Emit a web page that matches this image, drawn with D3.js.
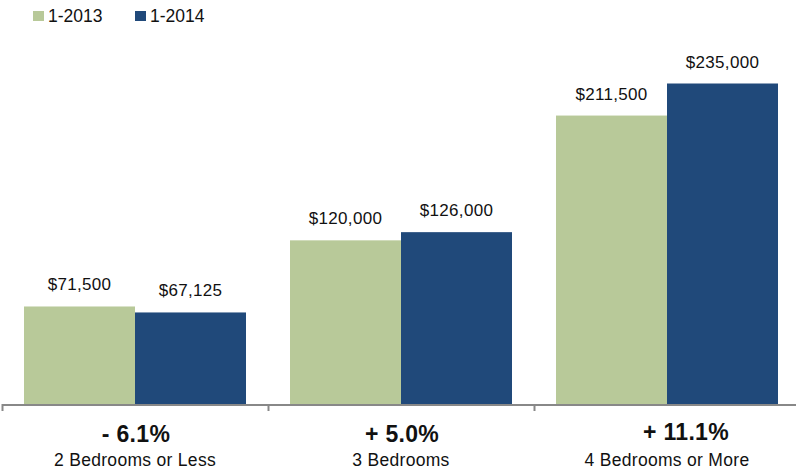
<!DOCTYPE html>
<html>
<head>
<meta charset="utf-8">
<script src="https://cdn.jsdelivr.net/npm/d3@7"></script>
<style>
  body { margin: 0; background: #fff; }
  text { font-family: "Liberation Sans", Arial, Helvetica, sans-serif; fill: #111; }
</style>
</head>
<body>
<svg width="796" height="473"></svg>
<script>
const categories = ["2 Bedrooms or Less", "3 Bedrooms", "4 Bedrooms or More"];
const series = ["1-2013", "1-2014"];
const values2013 = [71500, 120000, 211500];
const values2014 = [67125, 126000, 235000];
const changes = ["- 6.1%", "+ 5.0%", "+ 11.1%"];
const colors = ["#b8c999", "#20497a"];

const svg = d3.select("svg");
const baseY = 404;

const x = d3.scaleBand().domain(categories).range([2, 800]);
const xs = d3.scaleBand().domain(series).range([22, 244]);
const y = d3.scaleLinear().domain([0, 235000]).range([baseY, 83.5]);

const rows = categories.map((c, i) => ({
  cat: c,
  vals: [values2013[i], values2014[i]]
}));

const groups = svg.selectAll("g.cat")
  .data(rows)
  .join("g")
  .attr("class", "cat")
  .attr("transform", d => `translate(${x(d.cat)},0)`);

groups.selectAll("rect")
  .data(d => d.vals.map((v, j) => ({ s: series[j], v })))
  .join("rect")
  .attr("x", d => xs(d.s))
  .attr("width", xs.bandwidth())
  .attr("y", d => y(d.v))
  .attr("height", d => baseY - y(d.v))
  .attr("fill", (d, j) => colors[j]);

groups.selectAll("text.val")
  .data(d => d.vals.map((v, j) => ({ s: series[j], v })))
  .join("text")
  .attr("class", "val")
  .attr("x", d => xs(d.s) + xs.bandwidth() / 2)
  .attr("y", d => y(d.v) - 16)
  .attr("text-anchor", "middle")
  .style("font-size", "17px")
  .style("letter-spacing", "0.3px")
  .text(d => "$" + d3.format(",")(d.v));

// axis line + boundary ticks
svg.append("line")
  .attr("x1", 2).attr("x2", 800)
  .attr("y1", baseY + 1).attr("y2", baseY + 1)
  .attr("stroke", "#888").attr("stroke-width", 2);

svg.selectAll("line.tick")
  .data(categories)
  .join("line")
  .attr("class", "tick")
  .attr("x1", d => x(d) + 0.5).attr("x2", d => x(d) + 0.5)
  .attr("y1", baseY).attr("y2", baseY + 7)
  .attr("stroke", "#888").attr("stroke-width", 2);

svg.selectAll("text.chg")
  .data(changes)
  .join("text")
  .attr("class", "chg")
  .attr("x", (d, i) => x(categories[i]) + x.bandwidth() / 2)
  .attr("dx", (d, i) => i === 2 ? 19 : 1)
  .attr("y", (d, i) => i === 2 ? 439.5 : 441.5)
  .attr("text-anchor", "middle")
  .style("font-size", "23px")
  .style("font-weight", "bold")
  .style("letter-spacing", "0.3px")
  .text(d => d);

svg.selectAll("text.cat")
  .data(categories)
  .join("text")
  .attr("class", "cat")
  .attr("x", d => x(d) + x.bandwidth() / 2)
  .attr("y", 466)
  .attr("text-anchor", "middle")
  .style("font-size", "17.5px")
  .style("letter-spacing", "0.3px")
  .text(d => d);

// legend
const legend = svg.selectAll("g.leg")
  .data(series)
  .join("g")
  .attr("class", "leg")
  .attr("transform", (d, i) => `translate(${33 + i * 102},11)`);

legend.append("rect")
  .attr("width", 11).attr("height", 10)
  .attr("fill", (d, i) => colors[i]);

legend.append("text")
  .attr("x", 15).attr("y", 10.5)
  .style("font-size", "17.5px")
  .text(d => d);
</script>
</body>
</html>
